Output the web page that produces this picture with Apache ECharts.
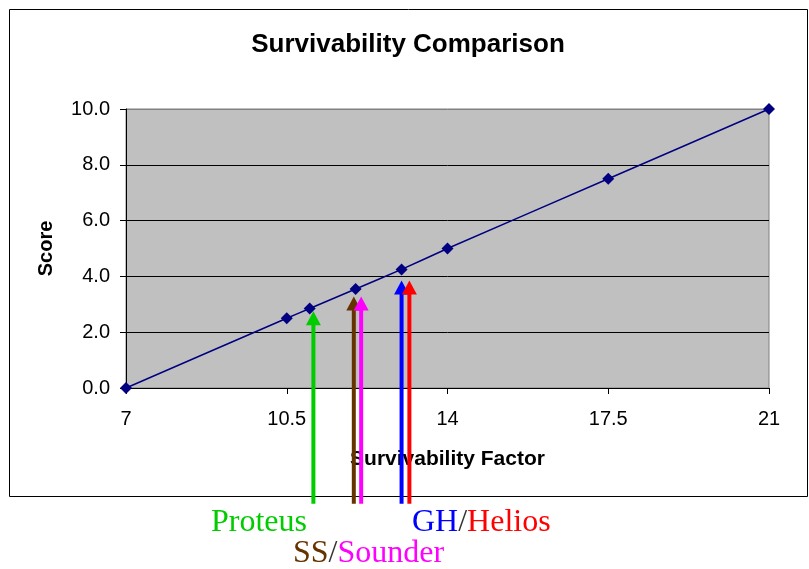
<!DOCTYPE html>
<html>
<head>
<meta charset="utf-8">
<script src="https://cdn.jsdelivr.net/npm/echarts@6/dist/echarts.min.js"></script>
<style>
  html, body { margin: 0; padding: 0; background: #fff; }
  #chart { width: 809px; height: 569px; }
</style>
</head>
<body>
<div id="chart"></div>
<script>
// survivability factor vs score
const factors = [7, 10.5, 11, 12, 13, 14, 17.5, 21];
const scores = [0, 2.5, 2.85, 3.55, 4.25, 5.0, 7.5, 10.0];

// arrows pointing at the systems (x position, tip height)
const arrowNames = ['Proteus', 'SS', 'Sounder', 'GH', 'Helios'];
const arrowX = [11.08, 11.96, 12.12, 13.0, 13.17];
const arrowTop = [2.75, 3.28, 3.28, 3.85, 3.85];
const arrowBottom = -4.15;
const arrowColors = ['#00CC00', '#663300', '#FF00FF', '#0000FF', '#FF0000'];

const xTicks = { min: 7, max: 21, interval: 3.5 };
const yTicks = { min: 0, max: 10, interval: 2 };

const chart = echarts.init(document.getElementById('chart'));

const arrowData = arrowX.map((x, i) => [x, arrowTop[i], arrowBottom, i]);

const serif = 'Liberation Serif, Times New Roman';

const option = {
    animation: false,
    title: {
        text: 'Survivability Comparison',
        left: 403,
        top: 27,
        textAlign: 'center',
        textStyle: { fontFamily: 'Liberation Sans, Arial', fontSize: 26, fontWeight: 'bold', color: '#000' }
    },
    grid: {
        left: 126, right: 40, top: 109, bottom: 181,
        show: true,
        backgroundColor: '#C0C0C0',
        borderColor: '#808080',
        borderWidth: 1
    },
    xAxis: {
        type: 'value',
        min: xTicks.min, max: xTicks.max, interval: xTicks.interval,
        name: 'Survivability Factor',
        nameLocation: 'middle',
        nameGap: 61,
        nameTextStyle: { fontFamily: 'Liberation Sans, Arial', fontSize: 21, fontWeight: 'bold', color: '#000' },
        axisLine: { lineStyle: { color: '#000', width: 1 } },
        axisTick: { show: true, length: 6, lineStyle: { color: '#000' } },
        axisLabel: { margin: 21, fontFamily: 'Liberation Sans, Arial', fontSize: 20, color: '#000' },
        splitLine: { show: false }
    },
    yAxis: {
        type: 'value',
        min: yTicks.min, max: yTicks.max, interval: yTicks.interval,
        name: 'Score',
        nameLocation: 'middle',
        nameRotate: 90,
        nameGap: 70,
        nameTextStyle: { fontFamily: 'Liberation Sans, Arial', fontSize: 20, fontWeight: 'bold', color: '#000' },
        axisLine: { show: true, lineStyle: { color: '#000', width: 1 } },
        axisTick: { show: true, length: 6, lineStyle: { color: '#000' } },
        axisLabel: {
            margin: 16,
            fontFamily: 'Liberation Sans, Arial', fontSize: 20, color: '#000',
            formatter: (v) => v.toFixed(1)
        },
        splitLine: {
            show: true,
            lineStyle: { color: ['#808080', '#000', '#000', '#000', '#000', '#808080'], width: 1 }
        }
    },
    series: [
        {
            name: 'Score',
            type: 'line',
            data: factors.map((f, i) => [f, scores[i]]),
            smooth: 0.2,
            symbol: 'diamond',
            symbolSize: 12,
            itemStyle: { color: '#000080' },
            lineStyle: { color: '#000080', width: 1.5 },
            z: 3
        },
        {
            name: 'Arrows',
            type: 'custom',
            clip: false,
            z: 4,
            data: arrowData,
            renderItem: function (params, api) {
                const tip = api.coord([api.value(0), api.value(1)]);
                const base = api.coord([api.value(0), api.value(2)]);
                const color = arrowColors[api.value(3)];
                const headH = 14, headW = 7.5;
                return {
                    type: 'group',
                    children: [
                        {
                            type: 'line',
                            shape: { x1: tip[0], y1: tip[1] + headH - 1, x2: base[0], y2: base[1] },
                            style: { stroke: color, lineWidth: 4 }
                        },
                        {
                            type: 'polygon',
                            shape: { points: [[tip[0], tip[1]], [tip[0] - headW, tip[1] + headH], [tip[0] + headW, tip[1] + headH]] },
                            style: { fill: color }
                        }
                    ]
                };
            }
        }
    ],
    graphic: [
        {
            type: 'rect',
            shape: { x: 9.5, y: 9.5, width: 798, height: 487 },
            style: { fill: 'none', stroke: '#000', lineWidth: 1 },
            silent: true
        },
        {
            type: 'text',
            x: 211, y: 523,
            style: {
                text: '{a|' + arrowNames[0] + '}',
                verticalAlign: 'middle',
                rich: { a: { fontFamily: serif, fontSize: 32, fill: arrowColors[0] } }
            }
        },
        {
            type: 'text',
            x: 293, y: 554,
            style: {
                text: '{a|' + arrowNames[1] + '}{s|/}{b|' + arrowNames[2] + '}',
                verticalAlign: 'middle',
                rich: {
                    a: { fontFamily: serif, fontSize: 32, fill: arrowColors[1] },
                    s: { fontFamily: serif, fontSize: 32, fill: '#333' },
                    b: { fontFamily: serif, fontSize: 32, fill: arrowColors[2] }
                }
            }
        },
        {
            type: 'text',
            x: 412, y: 523,
            style: {
                text: '{a|' + arrowNames[3] + '}{s|/}{b|' + arrowNames[4] + '}',
                verticalAlign: 'middle',
                rich: {
                    a: { fontFamily: serif, fontSize: 32, fill: arrowColors[3] },
                    s: { fontFamily: serif, fontSize: 32, fill: '#333' },
                    b: { fontFamily: serif, fontSize: 32, fill: arrowColors[4] }
                }
            }
        }
    ]
};

chart.setOption(option);
</script>
</body>
</html>
